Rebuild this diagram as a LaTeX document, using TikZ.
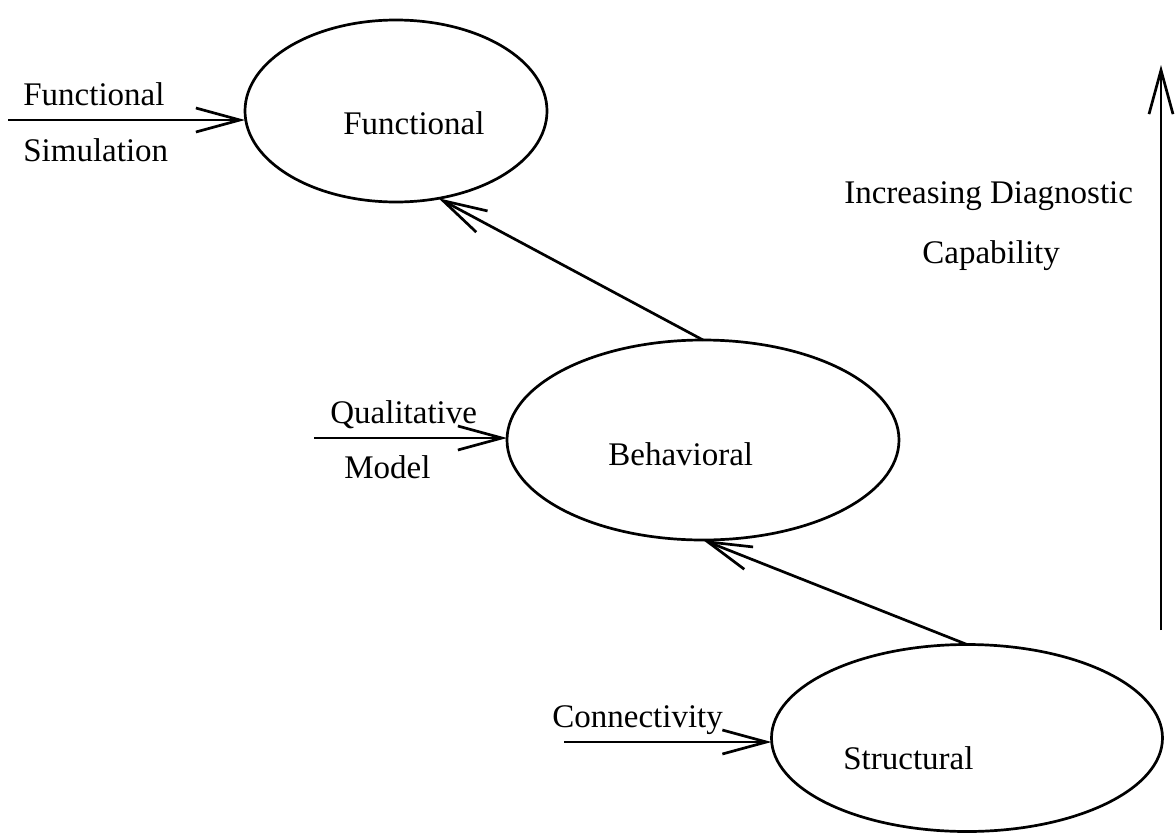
\documentclass[tikz,border=0pt]{standalone}
\usepackage{fontspec}
\setmainfont{Liberation Serif}
\usetikzlibrary{arrows.meta,shapes.geometric}
\begin{document}
\begin{tikzpicture}[x=1pt,y=-1pt,
  line width=2.7pt,
  oval/.style={draw,ellipse,inner sep=0pt,outer sep=0pt},
  lbl/.style={anchor=base west,inner sep=0pt,font=\fontsize{33}{40}\selectfont},
  arr/.style={-{Straight Barb[length=44pt,width=24pt]}}]
\useasboundingbox (0,0) rectangle (1176,839);
% ellipses
\node[oval,minimum width=302pt,minimum height=182pt] (func) at (396,111) {};
\node[oval,minimum width=392pt,minimum height=200pt] (beh) at (703,440) {};
\node[oval,minimum width=391pt,minimum height=187pt] (str) at (967,738) {};
% labels inside
\node[lbl] (tf) at (342,134) {Functional};
\node[lbl] (tb) at (607,465) {Behavioral};
\node[lbl] (ts) at (842,769) {Structural};
% input labels
\node[lbl] (lf1) at (22,105) {Functional};
\node[lbl] (lf2) at (22,161) {Simulation};
\node[lbl] (lq1) at (329,423) {Qualitative};
\node[lbl] (lq2) at (343,478) {Model};
\node[lbl] (lc) at (551,727) {Connectivity};
\node[lbl] (li1) at (843,203) {Increasing Diagnostic};
\node[lbl] (li2) at (921,263) {Capability};
% input arrows
\coordinate (fs) at (8,120);
\coordinate (qs) at (314,438);
\coordinate (cs) at (564,742);
\draw[arr] (fs) -- (fs -| func.west);
\draw[arr] (qs) -- (qs -| beh.west);
\draw[arr] (cs) -- (cs -| str.west);
% hierarchy arrows
\draw[arr] (beh.north) -- (func.-64);
\draw[arr] (str.north) -- (beh.south);
% capability arrow
\coordinate (rb) at (1161,630);
\coordinate (rt) at (1161,65);
\draw[arr] (rb) -- (rt);
\end{tikzpicture}
\end{document}
